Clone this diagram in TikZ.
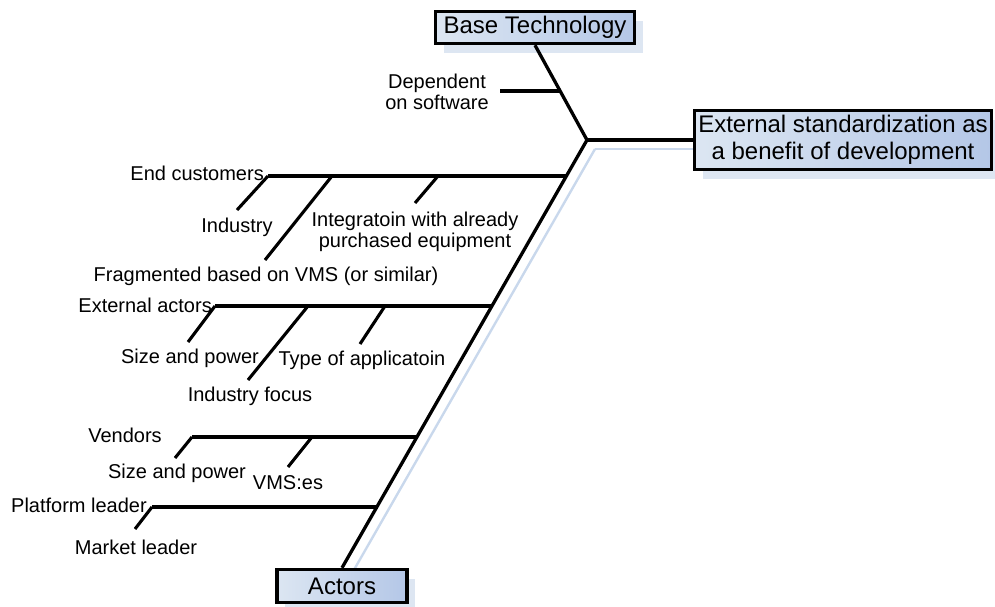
\documentclass[tikz,border=0pt]{standalone}
\usepackage{fontspec}
\setmainfont{Liberation Sans}
\usetikzlibrary{calc,shadows,backgrounds}

\definecolor{boxlight}{HTML}{DCE6F2}
\definecolor{boxdark}{HTML}{B4C7E7}
\definecolor{shadowblue}{HTML}{C9D8EC}
\definecolor{shadowbox}{HTML}{DDE6F2}

\tikzset{
    effect/.style={draw=black, line width=3.4pt, left color=boxlight, right color=boxdark,
        font=\fontsize{24}{27}\selectfont, align=center, inner sep=0pt,
        drop shadow={shadow xshift=8pt, shadow yshift=-9pt, fill=shadowbox, opacity=1}},
    bone/.style={line width=3.3pt},
    subbone/.style={line width=3.1pt},
    shadowline/.style={draw=shadowblue, line width=2.4pt},
    cause/.style={font=\fontsize{20}{21}\selectfont, align=center, inner sep=0pt},
}

\begin{document}
\begin{tikzpicture}[x=1pt,y=-1pt]
    \useasboundingbox (0,0) rectangle (995,606);

    \node[effect, minimum width=199pt, minimum height=32pt] (bt) at (535,27.5) {Base Technology};
    \node[effect, minimum width=297pt, minimum height=59pt] (ext) at (843,140) {External standardization as\\a benefit of development};
    \node[effect, minimum width=130pt, minimum height=33pt] (act) at (342,586) {Actors};
    \coordinate (J) at (587,140);

    \draw[bone] (bt.south) -- (J) -- (act.north);
    \draw[bone] (J) -- (ext.west);
    \begin{scope}[on background layer]
        \draw[shadowline] ([shift={(8,9)}]J) -- ([shift={(8,9)}]act.north);
        \draw[shadowline] ([shift={(8,9)}]J) -- ([shift={(8,9)}]ext.west);
    \end{scope}

    \coordinate (u1) at ($(bt.south)!0.484!(J)$);
    \coordinate (s1) at ($(J)!0.0838!(act.north)$);
    \coordinate (s2) at ($(J)!0.3865!(act.north)$);
    \coordinate (s3) at ($(J)!0.6915!(act.north)$);
    \coordinate (s4) at ($(J)!0.8545!(act.north)$);

    \coordinate (d0) at (500,91);
    \coordinate (e0) at (268,176);
    \coordinate (x0) at (215,306);
    \coordinate (v0) at (192,437);
    \coordinate (p0) at (152,507);

    \draw[bone] (d0) -- (d0 -| u1);
    \draw[bone] (e0) -- (e0 -| s1);
    \draw[bone] (x0) -- (x0 -| s2);
    \draw[bone] (v0) -- (v0 -| s3);
    \draw[bone] (p0) -- (p0 -| s4);

    \coordinate (e1) at (332,176);
    \coordinate (e2) at (438,176);
    \coordinate (x1) at (308,306);
    \coordinate (x2) at (385,306);
    \coordinate (v1) at (312,437);

    \coordinate (ind-end) at (237,210);
    \coordinate (frag-end) at (265,260);
    \coordinate (integ-end) at (415,203);
    \coordinate (sizea-end) at (188,342);
    \coordinate (indf-end) at (248,380);
    \coordinate (type-end) at (360,344);
    \coordinate (sizeb-end) at (175,458);
    \coordinate (vms-end) at (288,467);
    \coordinate (mkt-end) at (135,529);

    \draw[subbone] (e0) -- (ind-end);
    \draw[subbone] (e1) -- (frag-end);
    \draw[subbone] (e2) -- (integ-end);
    \draw[subbone] (x0) -- (sizea-end);
    \draw[subbone] (x1) -- (indf-end);
    \draw[subbone] (x2) -- (type-end);
    \draw[subbone] (v0) -- (sizeb-end);
    \draw[subbone] (v1) -- (vms-end);
    \draw[subbone] (p0) -- (mkt-end);

    \node[cause] (dep) at (437,91.5) {Dependent\\on software};
    \node[cause, anchor=east] (endc) at (264,173) {End customers};
    \node[cause] (ind) at (237,227) {Industry};
    \node[cause] (frag) at (266,276) {Fragmented based on VMS (or similar)};
    \node[cause] (integ) at (415,231.5) {Integratoin with already\\purchased equipment};
    \node[cause, anchor=east] (extact) at (212,305) {External actors};
    \node[cause] (sizea) at (190,358) {Size and power};
    \node[cause] (indf) at (250,396) {Industry focus};
    \node[cause] (type) at (362,360) {Type of applicatoin};
    \node[cause] (vend) at (125,435) {Vendors};
    \node[cause] (sizeb) at (177,473) {Size and power};
    \node[cause] (vms) at (288,483) {VMS:es};
    \node[cause, anchor=east] (plat) at (147,505) {Platform leader};
    \node[cause] (mkt) at (136,547) {Market leader};
\end{tikzpicture}
\end{document}
